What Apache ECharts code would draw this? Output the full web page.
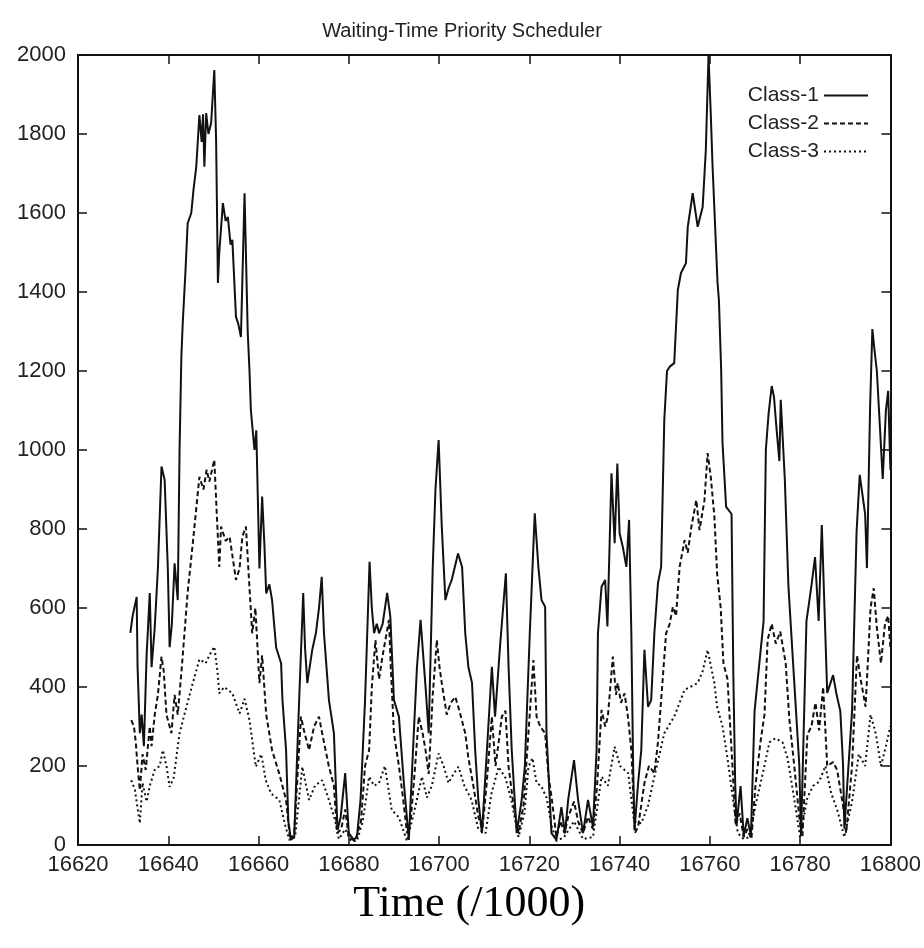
<!DOCTYPE html>
<html>
<head>
<meta charset="utf-8">
<script src="https://cdn.jsdelivr.net/npm/echarts@6/dist/echarts.min.js"></script>
<style>html,body{margin:0;padding:0;background:#fff}#c{width:924px;height:948px}</style>
</head>
<body>
<div id="c"></div>
<script>
const titleText = 'Waiting-Time Priority Scheduler';
const xName = 'Time (/1000)';
const seriesNames = ['Class-1', 'Class-2', 'Class-3'];
const xTicks = [16620, 16640, 16660, 16680, 16700, 16720, 16740, 16760, 16780, 16800];
const yTicks = [0, 200, 400, 600, 800, 1000, 1200, 1400, 1600, 1800, 2000];

const class1Time = [16631.6,16632.1,16633.0,16633.2,16633.7,16634.1,16634.6,16635.2,16635.9,16636.3,16637.0,16637.7,16638.5,16639.2,16639.9,16640.3,16640.8,16641.4,16642.1,16642.5,16642.9,16643.2,16643.8,16644.3,16645.1,16645.6,16646.2,16646.9,16647.4,16647.7,16648.0,16648.4,16648.9,16649.5,16650.2,16650.6,16651.0,16651.3,16652.1,16652.7,16653.2,16653.8,16654.2,16655.0,16655.5,16656.1,16656.9,16657.6,16658.0,16658.3,16659.1,16659.5,16660.2,16660.8,16661.3,16661.7,16662.4,16663.0,16663.9,16665.0,16665.3,16666.1,16666.6,16667.2,16667.9,16669.0,16669.9,16670.3,16670.8,16671.9,16672.7,16673.4,16674.0,16674.5,16675.6,16676.7,16677.5,16678.2,16679.2,16680.0,16681.1,16681.8,16682.6,16683.6,16684.6,16685.1,16685.6,16686.2,16686.7,16687.5,16688.5,16689.2,16690.0,16691.1,16692.2,16693.3,16694.4,16695.1,16695.9,16697.0,16697.7,16698.6,16699.2,16699.9,16700.6,16701.4,16702.1,16702.8,16704.2,16705.1,16705.8,16706.5,16707.3,16708.0,16708.7,16709.5,16710.6,16711.7,16712.4,16713.5,16714.8,16715.4,16716.1,16717.2,16718.3,16719.0,16720.1,16721.2,16722.0,16722.7,16723.5,16723.8,16724.9,16726.0,16727.1,16727.9,16728.6,16729.9,16730.8,16731.9,16733.0,16734.1,16734.9,16735.2,16736.0,16736.8,16737.3,16738.2,16738.9,16739.5,16740.0,16740.7,16741.5,16742.1,16742.6,16743.0,16743.3,16744.1,16744.8,16745.5,16746.3,16747.0,16747.7,16748.5,16749.2,16749.9,16750.5,16751.1,16752.1,16752.9,16753.6,16754.7,16755.1,16756.2,16757.3,16758.4,16759.1,16759.7,16760.2,16760.6,16761.7,16762.0,16762.5,16762.8,16763.6,16764.8,16765.2,16765.6,16765.9,16766.8,16767.5,16768.3,16769.1,16769.9,16771.1,16771.9,16772.4,16773.0,16773.7,16774.2,16774.7,16775.4,16775.7,16776.6,16777.4,16778.6,16779.8,16780.2,16781.4,16782.5,16783.3,16784.1,16784.8,16786.0,16787.3,16788.0,16788.9,16789.5,16789.8,16791.5,16792.5,16793.2,16794.4,16794.8,16795.5,16796.0,16796.5,16797.0,16798.3,16799.0,16799.5,16800.0];
const class1Value = [537,580,628,450,283,330,250,480,638,450,550,700,958,924,700,501,560,713,620,1000,1236,1320,1450,1574,1600,1660,1717,1848,1780,1850,1717,1853,1800,1828,1962,1785,1423,1500,1625,1580,1590,1520,1532,1337,1320,1286,1650,1300,1200,1101,1000,1050,700,882,760,637,660,620,500,460,367,240,60,13,20,367,638,500,410,494,536,600,679,536,367,283,38,71,182,30,13,20,114,367,717,600,536,560,536,560,638,578,367,325,157,13,283,450,570,401,283,704,900,1025,806,620,650,671,738,704,536,450,410,240,114,30,240,451,325,502,688,451,240,30,114,198,536,840,704,620,603,283,30,13,96,30,114,215,114,30,114,46,240,536,654,671,553,941,764,966,789,755,704,823,536,198,38,157,240,494,350,367,536,663,704,1076,1200,1211,1220,1405,1448,1473,1565,1650,1565,1615,1759,2000,1850,1717,1423,1380,1203,1018,856,838,430,160,51,149,23,68,23,339,476,567,1000,1091,1162,1135,1063,972,1127,927,656,430,205,23,567,656,729,567,810,385,430,385,339,205,41,339,792,937,838,701,1109,1306,1250,1200,927,1100,1150,950];

const class2Time = [16631.8,16632.4,16632.8,16633.2,16633.7,16634.3,16635.0,16635.9,16636.3,16637.0,16637.7,16638.5,16639.0,16639.6,16640.7,16641.4,16642.1,16643.0,16644.3,16645.4,16646.9,16647.8,16648.5,16649.1,16650.2,16650.7,16651.3,16651.7,16652.7,16653.6,16655.0,16655.8,16656.4,16657.2,16658.0,16658.6,16659.3,16660.2,16660.8,16661.7,16663.0,16664.6,16666.1,16667.0,16667.9,16669.4,16670.2,16671.2,16672.3,16673.4,16674.1,16675.6,16676.7,16677.4,16678.3,16679.2,16680.0,16681.4,16682.7,16683.6,16684.5,16685.1,16685.9,16686.7,16687.5,16688.9,16689.3,16690.0,16691.1,16692.0,16692.9,16693.7,16694.7,16695.5,16696.4,16697.0,16697.7,16698.6,16699.5,16700.1,16700.6,16701.7,16702.6,16703.6,16704.5,16705.8,16706.5,16707.6,16708.7,16709.6,16710.5,16711.7,16712.5,16713.2,16713.9,16714.7,16715.4,16716.5,16717.6,16718.7,16719.8,16720.9,16721.6,16722.4,16723.5,16724.2,16725.0,16726.0,16726.9,16727.8,16728.6,16729.9,16730.8,16731.9,16733.0,16734.1,16735.0,16736.0,16736.8,16737.4,16738.5,16739.2,16739.6,16740.3,16741.1,16741.9,16742.6,16743.4,16744.1,16745.5,16746.5,16747.7,16748.5,16749.2,16750.3,16751.1,16751.8,16752.5,16753.3,16754.4,16755.1,16755.9,16757.0,16757.7,16758.8,16759.5,16760.2,16761.0,16761.6,16762.4,16763.0,16763.9,16765.0,16765.7,16766.6,16767.5,16768.3,16769.2,16770.1,16771.2,16772.1,16772.8,16773.7,16774.6,16775.6,16776.8,16777.6,16778.7,16779.9,16780.5,16781.6,16782.5,16783.4,16784.2,16785.1,16786.0,16787.3,16788.2,16789.5,16790.2,16791.5,16792.6,16793.4,16794.5,16795.6,16796.3,16797.0,16797.9,16798.8,16799.5,16800.0];
const class2Value = [316,300,260,200,139,230,190,300,250,330,380,477,440,330,283,380,330,450,640,760,932,900,950,920,975,850,704,806,770,780,671,700,780,806,650,536,600,410,480,330,240,180,114,13,30,325,283,240,300,325,283,198,150,30,40,90,20,10,60,200,240,400,519,420,480,570,450,283,200,120,30,60,200,325,280,240,180,380,519,450,410,330,360,375,340,283,220,150,71,40,150,325,200,260,325,340,198,100,30,100,283,468,325,300,283,180,114,20,60,30,71,110,60,30,71,40,150,342,300,325,477,380,410,360,384,320,240,30,46,157,200,182,260,367,536,560,603,580,704,772,740,806,873,797,873,992,932,831,688,600,460,420,200,50,80,20,40,15,150,260,330,520,560,510,540,460,320,200,60,20,280,300,360,290,400,200,210,190,100,30,200,480,420,350,600,650,550,460,560,580,500];

const class3Time = [16631.8,16632.6,16633.7,16634.3,16635.2,16635.9,16637.0,16638.1,16638.8,16639.6,16640.3,16641.2,16642.5,16643.8,16645.2,16646.9,16648.3,16649.1,16650.2,16650.9,16651.3,16652.4,16654.2,16655.8,16656.9,16658.0,16659.4,16660.6,16661.6,16662.8,16664.6,16665.9,16666.8,16668.1,16669.7,16671.2,16672.5,16674.1,16675.6,16677.0,16677.8,16679.2,16680.5,16681.8,16683.1,16684.5,16685.6,16686.7,16688.0,16689.5,16691.1,16692.9,16694.4,16696.2,16697.3,16698.4,16699.9,16701.0,16702.1,16703.2,16704.3,16705.6,16707.2,16708.7,16710.3,16711.6,16713.2,16714.7,16716.0,16717.6,16718.9,16719.8,16720.7,16721.6,16722.6,16723.8,16724.9,16726.0,16727.7,16729.9,16731.9,16734.1,16736.0,16737.4,16738.9,16740.1,16741.9,16743.2,16744.8,16746.3,16747.7,16749.9,16752.1,16754.4,16757.3,16758.4,16759.5,16761.0,16761.6,16762.8,16763.9,16765.3,16766.2,16767.5,16768.8,16770.1,16771.7,16773.2,16774.5,16776.1,16777.2,16778.5,16780.0,16781.6,16782.9,16784.2,16785.6,16786.9,16788.2,16789.8,16791.5,16793.0,16794.4,16795.6,16796.8,16797.9,16799.0,16800.0];
const class3Value = [164,140,55,157,110,150,190,200,240,200,147,170,283,340,400,470,460,480,502,440,384,400,384,333,370,316,198,230,164,130,114,50,13,20,198,114,150,164,114,60,15,40,10,10,60,173,150,157,200,89,70,10,80,173,120,150,232,200,157,180,198,150,114,40,30,130,198,170,114,20,80,198,220,157,150,120,50,10,20,60,15,20,173,150,249,200,182,60,55,100,173,283,325,393,410,440,494,410,350,300,220,100,30,15,20,100,180,260,270,260,220,130,20,120,150,160,200,130,90,20,110,230,200,330,280,200,250,300];

function zip(t, v) { return t.map((x, i) => [x, v[i]]); }

const chart = echarts.init(document.getElementById('c'), null, { renderer: 'canvas' });
const fontSans = 'Liberation Sans, Arial, Helvetica, sans-serif';
const lineColor = '#111';
const tickLen = 9;

const option = {
  backgroundColor: '#fff',
  animation: false,
  title: {
    text: titleText,
    left: 'center',
    top: 16,
    textStyle: { fontFamily: fontSans, fontSize: 20, fontWeight: 'normal', color: '#222' }
  },
  legend: {
    orient: 'vertical',
    right: 50,
    top: 80,
    align: 'right',
    itemWidth: 44,
    itemHeight: 12,
    itemGap: 7,
    itemStyle: { opacity: 0 },
    textStyle: { fontFamily: fontSans, fontSize: 21, color: '#222' },
    data: seriesNames
  },
  grid: { left: 78, right: 31, top: 55, bottom: 103, containLabel: false },
  xAxis: [
    {
      type: 'value', min: xTicks[0], max: xTicks[xTicks.length - 1], interval: 20,
      position: 'bottom',
      name: xName, nameLocation: 'middle', nameGap: 37,
      nameTextStyle: { fontFamily: 'Liberation Serif, Times New Roman, serif', fontSize: 44, color: '#000', padding: [0, 30, 0, 0] },
      axisLine: { show: true, onZero: false, lineStyle: { color: lineColor, width: 2 } },
      axisTick: { show: true, inside: true, length: tickLen, lineStyle: { color: lineColor, width: 1.5 } },
      axisLabel: { fontFamily: fontSans, fontSize: 22, color: '#222', margin: 9, formatter: v => String(v) },
      splitLine: { show: false }
    },
    {
      type: 'value', min: xTicks[0], max: xTicks[xTicks.length - 1], interval: 20,
      position: 'top',
      axisLine: { show: true, onZero: false, lineStyle: { color: lineColor, width: 2 } },
      axisTick: { show: true, inside: true, length: tickLen, lineStyle: { color: lineColor, width: 1.5 } },
      axisLabel: { show: false },
      splitLine: { show: false }
    }
  ],
  yAxis: [
    {
      type: 'value', min: yTicks[0], max: yTicks[yTicks.length - 1], interval: 200,
      position: 'left',
      axisLine: { show: true, onZero: false, lineStyle: { color: lineColor, width: 2 } },
      axisTick: { show: true, inside: true, length: tickLen, lineStyle: { color: lineColor, width: 1.5 } },
      axisLabel: { fontFamily: fontSans, fontSize: 22, color: '#222', margin: 12, formatter: v => String(v) },
      splitLine: { show: false }
    },
    {
      type: 'value', min: yTicks[0], max: yTicks[yTicks.length - 1], interval: 200,
      position: 'right',
      axisLine: { show: true, onZero: false, lineStyle: { color: lineColor, width: 2 } },
      axisTick: { show: true, inside: true, length: tickLen, lineStyle: { color: lineColor, width: 1.5 } },
      axisLabel: { show: false },
      splitLine: { show: false }
    }
  ],
  series: [
    {
      name: seriesNames[0], type: 'line', xAxisIndex: 0, yAxisIndex: 0,
      data: zip(class1Time, class1Value), symbol: 'none', z: 3,
      lineStyle: { color: lineColor, width: 2, type: 'solid' },
      itemStyle: { color: lineColor }
    },
    {
      name: seriesNames[1], type: 'line', xAxisIndex: 0, yAxisIndex: 0,
      data: zip(class2Time, class2Value), symbol: 'none', z: 2,
      lineStyle: { color: lineColor, width: 2, type: [5, 3] },
      itemStyle: { color: lineColor }
    },
    {
      name: seriesNames[2], type: 'line', xAxisIndex: 0, yAxisIndex: 0,
      data: zip(class3Time, class3Value), symbol: 'none', z: 1,
      lineStyle: { color: lineColor, width: 2, type: [2, 3] },
      itemStyle: { color: lineColor }
    }
  ]
};
chart.setOption(option);
</script>
</body>
</html>
